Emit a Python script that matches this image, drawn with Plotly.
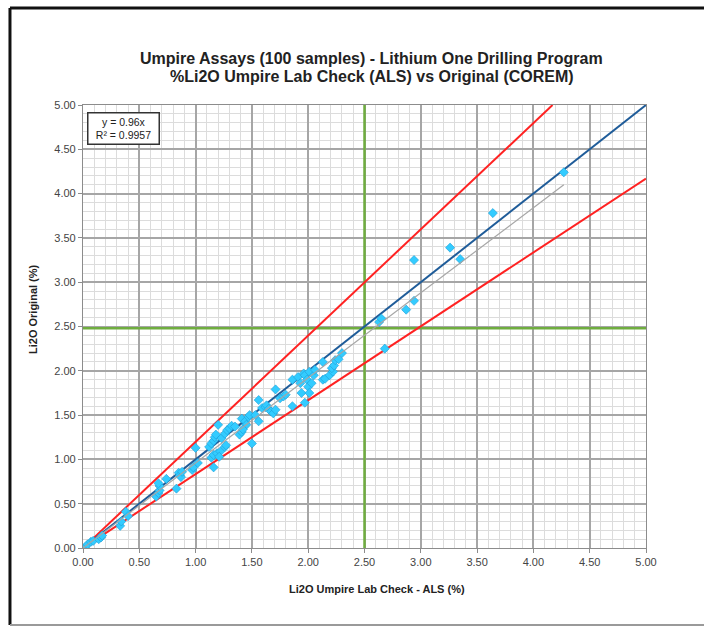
import plotly.graph_objects as go

# ---- data ----
als = [0.02, 0.04, 0.07, 0.09, 0.14, 0.16, 0.17, 0.33, 0.34, 0.38, 0.40,
       0.65, 0.67, 0.68, 0.68, 0.67, 0.74, 0.83, 0.85, 0.86, 0.87, 0.88, 0.97, 0.98, 1.00, 1.02,
       1.12, 1.14, 1.16, 1.17, 1.18, 1.20, 1.14, 1.16, 1.19, 1.22, 1.21, 1.16, 1.26, 1.27,
       1.23, 1.26, 1.28, 1.30, 1.32, 1.35, 1.39, 1.41, 1.41, 1.44, 1.47, 1.48, 1.45, 1.50,
       1.53, 1.56, 1.56, 1.59, 1.42,
       1.62, 1.63, 1.65, 1.67, 1.69, 1.71, 1.71, 1.75, 1.78, 1.80, 1.86, 1.86, 1.91, 1.93,
       1.94, 1.96, 1.97, 1.97, 1.99, 2.00, 2.01, 2.03, 2.01, 2.05, 2.06, 2.13, 2.15, 2.13,
       2.19, 2.22, 2.21, 2.23, 2.24, 2.27, 2.30,
       2.63, 2.65, 2.68, 2.87, 2.94, 2.94, 3.26, 3.35, 3.64, 4.27]
orig = [0.01, 0.04, 0.07, 0.08, 0.10, 0.12, 0.14, 0.25, 0.30, 0.41, 0.36,
        0.58, 0.62, 0.65, 0.70, 0.73, 0.78, 0.67, 0.85, 0.82, 0.80, 0.86, 0.88, 0.91, 1.13, 0.96,
        1.14, 1.18, 1.21, 1.25, 1.28, 1.39, 1.02, 1.05, 1.07, 1.09, 1.03, 0.91, 1.14, 1.16,
        1.24, 1.29, 1.33, 1.35, 1.38, 1.37, 1.28, 1.31, 1.46, 1.43, 1.48, 1.50, 1.39, 1.18,
        1.50, 1.43, 1.67, 1.58, 1.34,
        1.59, 1.61, 1.57, 1.54, 1.52, 1.56, 1.79, 1.69, 1.71, 1.73, 1.60, 1.90, 1.93, 1.86,
        1.75, 1.97, 1.95, 1.64, 1.90, 1.82, 1.75, 1.86, 1.99, 1.95, 2.01, 1.90, 1.91, 2.10,
        1.95, 1.99, 2.03, 2.06, 2.12, 2.13, 2.20,
        2.55, 2.59, 2.25, 2.69, 2.79, 3.25, 3.39, 3.26, 3.78, 4.24]

one_to_one_x = [0.0, 5.0]
one_to_one_y = [0.0, 5.0]
upper_x = [0.0, 4.17]
upper_y = [0.0, 5.0]
lower_x = [0.0, 5.0]
lower_y = [0.0, 4.17]
trend_x = [0.0, 4.27]
trend_y = [0.0, 4.10]
green_v_x = [2.5, 2.5]
green_v_y = [0.0, 5.0]
green_h_x = [0.0, 5.0]
green_h_y = [2.48, 2.48]
tick_vals = [0, 0.5, 1.0, 1.5, 2.0, 2.5, 3.0, 3.5, 4.0, 4.5, 5.0]
tick_text = ["0.00", "0.50", "1.00", "1.50", "2.00", "2.50", "3.00", "3.50", "4.00", "4.50", "5.00"]

FONT = "Liberation Sans, Arial, sans-serif"

fig = go.Figure()
fig.add_trace(go.Scatter(x=green_v_x, y=green_v_y, mode="lines",
                         line=dict(color="#6FAD3F", width=2.5), hoverinfo="skip"))
fig.add_trace(go.Scatter(x=green_h_x, y=green_h_y, mode="lines",
                         line=dict(color="#6FAD3F", width=2.5), hoverinfo="skip"))
fig.add_trace(go.Scatter(x=upper_x, y=upper_y, mode="lines",
                         line=dict(color="#FF2222", width=2), hoverinfo="skip"))
fig.add_trace(go.Scatter(x=lower_x, y=lower_y, mode="lines",
                         line=dict(color="#FF2222", width=2), hoverinfo="skip"))
fig.add_trace(go.Scatter(x=one_to_one_x, y=one_to_one_y, mode="lines",
                         line=dict(color="#1F5C99", width=2), hoverinfo="skip"))
fig.add_trace(go.Scatter(x=als, y=orig, mode="markers",
                         marker=dict(symbol="diamond", size=7, color="#33CCFF",
                                     line=dict(color="#1E9ED6", width=0.6))))
fig.add_trace(go.Scatter(x=trend_x, y=trend_y, mode="lines",
                         line=dict(color="#A6A6A6", width=1.2), hoverinfo="skip"))

axis_common = dict(
    range=[0, 5], tickvals=tick_vals, ticktext=tick_text,
    showgrid=True, gridcolor="#A6A6A6", gridwidth=1.5,
    minor=dict(dtick=0.1, showgrid=True, gridcolor="#DCDCDC", gridwidth=1, ticks=""),
    showline=True, linecolor="#8C8C8C", linewidth=1.2, mirror=True,
    ticks="outside", ticklen=4, tickcolor="#8C8C8C",
    tickfont=dict(family=FONT, size=11, color="#444444"),
    zeroline=False, fixedrange=True, automargin=False,
)
fig.update_xaxes(**axis_common)
fig.update_yaxes(**axis_common)

# Excel-style outer frame
shapes = [
    dict(type="line", xref="paper", yref="paper", x0=-0.1297, x1=-0.1297, y0=-0.1738, y1=1.219,
         line=dict(color="#111111", width=3)),
    dict(type="line", xref="paper", yref="paper", x0=-0.1297, x1=1.12, y0=1.219, y1=1.219,
         line=dict(color="#111111", width=3)),
    dict(type="line", xref="paper", yref="paper", x0=-0.1297, x1=1.12, y0=-0.1738, y1=-0.1738,
         line=dict(color="#9A9A9A", width=2)),
]

annotations = [
    dict(xref="paper", yref="paper", x=0.513, y=1.106, yanchor="middle", showarrow=False,
         text="<b>Umpire Assays (100 samples) - Lithium One Drilling Program</b>",
         font=dict(family=FONT, size=16, color="#222222")),
    dict(xref="paper", yref="paper", x=0.513, y=1.065, yanchor="middle", showarrow=False,
         text="<b>%Li2O Umpire Lab Check (ALS) vs Original (COREM)</b>",
         font=dict(family=FONT, size=16, color="#222222")),
    dict(xref="paper", yref="paper", x=0.522, y=-0.0926, yanchor="middle", showarrow=False,
         text="<b>Li2O Umpire Lab Check - ALS (%)</b>",
         font=dict(family=FONT, size=11, color="#222222")),
    dict(xref="paper", yref="paper", x=-0.0888, y=0.5395, xanchor="center", yanchor="middle",
         showarrow=False, textangle=-90, text="<b>Li2O Original (%)</b>",
         font=dict(family=FONT, size=11, color="#222222")),
    dict(xref="paper", yref="paper", x=0.0071, y=0.984, xanchor="left", yanchor="top",
         showarrow=False, text="y = 0.96x<br>R² = 0.9957", width=66, height=26,
         font=dict(family=FONT, size=10.5, color="#222222"), align="center",
         bordercolor="#333333", borderwidth=1.5, borderpad=2, bgcolor="white"),
]

fig.update_layout(
    width=704, height=628,
    margin=dict(l=83, r=58, t=105, b=80),
    paper_bgcolor="white", plot_bgcolor="white",
    showlegend=False, shapes=shapes, annotations=annotations,
    font=dict(family=FONT),
)

fig.write_html("out.html", config={"displayModeBar": False},
               post_script="document.body.style.margin='0px';")
